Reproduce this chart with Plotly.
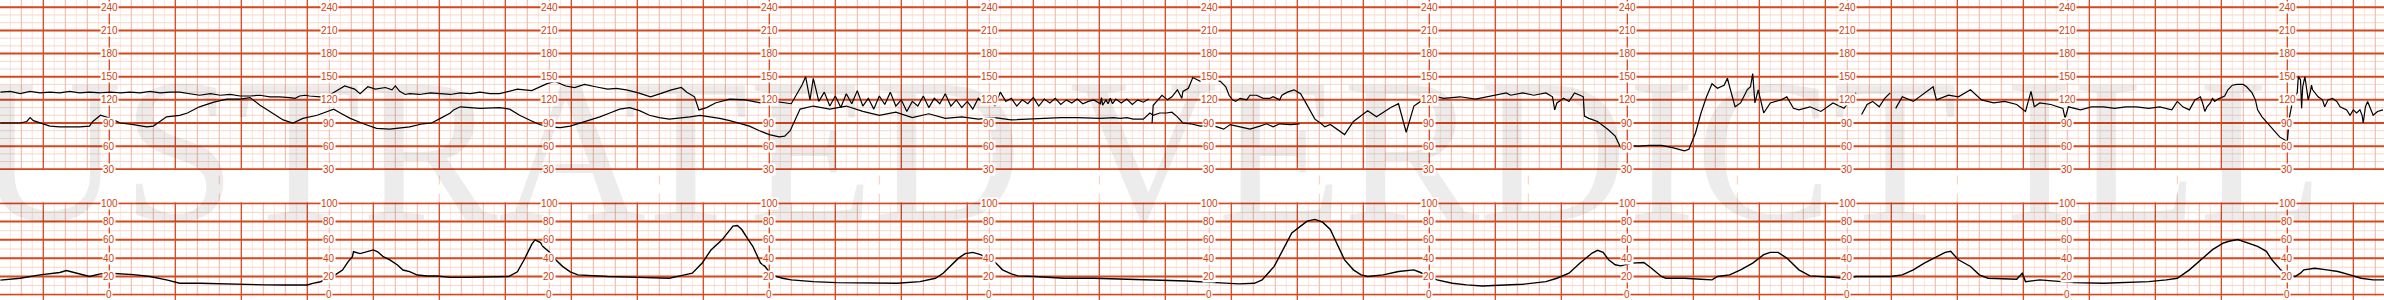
import plotly.graph_objects as go
import numpy as np

# ---------------- data (time in seconds) ----------------
fhr1_t = [-39,-30,-21,-12,-3,6,15,24,33,42,52,61,70,79,88,97,106,115,124,133,142,152,161,170,179,188,197,206,215,224,229,233,238,242,252,261,270,274,283,288,295,302,311,317,320,324,329,333,342,352,361,370,379,388,397,406,415,
          431,444,458,465,475,483,492,502,513,521,530,541,552,561,571,580,585,592,596,603,611,624,638,652,665,680,
          690,693,697,700,705,710,715,720,725,730,735,740,745,750,755,760,765,770,775,780,785,790,795,800,805,810,815,820,825,830,835,840,845,850,855,860,865,870,875,880,885,890,895,900,905,910,915,920,925,930,935,940,945,950,955,961,962,963,966,968,970,972,974,975,980,985,990,995,1000,1005,
          None,
          1008,1008.5,1009,1017,1022,1026,1031,1035,1036,1041,1045,1049,1052,1058,1061,1066,1070,1075,1078,1081,1084,1088,1094,1097,1103,1109,1115,1118,1124,1126,1131,1137,1143,
          1147,1152,1156,1161,1165,1170,1177,1183,1191,1198,1204,1212,1218,1225,1232,1239,1246,1252,1260,1267,1273,1288,1302,1315,1324,
          1330,1334,1345,1355,1366,1372,1374,1376,1382,1387,1392,1397,1400,1401,1405,1413,1423,1429,1434,1439,1450,1460,1471,1481,1492,1496,1502,1507,1512,1517,1522,1528,1531,1533,1538,1543,1549,1552,1554,1556,1559,1564,1570,1580,1585,1591,1596,1606,1616,1627,1637,1648,
          None,
          1653,1658,1663,1669,1674,1679,
          None,
          1684,1690,1700,1710,1718,1721,1732,1741,1752,1762,1773,1783,1794,1802,1807,1810,1815,1825,1836,1838,1841,1852,1862,1873,1883,1893,1903,1914,1924,1935,1940,1945,1951,1956,1961,
          1963,1965,1967,1970,1972,1974,1977,1981,1983,1986,1990,1994,2000,2003,2008,2011,2013,2017,2022,2027,2033,2040,2041,2042,2045,2049,2050,2052,2053,2054,2056,2058,2059,2061,2062,2063,2068,2072,2074,2077,2081,2085,2088,2094,2097,2100,2103,2106,2108,2109,2111,2113,2116,2118,2122,2127]
fhr1_v = [130,131,128,131,129,130,129,131,129,130,129,130,129,130,129,131,129,130,130,128,126,128,126,127,125,125,126,124,124,123,122,125,126,125,124,127,134,138,134,128,137,134,136,133,138,131,127,128,127,129,128,127,129,128,130,128,128,
          134,132,141,144,138,136,140,137,134,135,133,129,124,128,133,136,130,124,107,110,116,121,120,116,118,115,
          140,150,120,148,118,130,112,125,110,128,115,132,112,122,108,125,114,130,112,120,105,118,112,125,110,122,115,128,112,120,110,118,108,122,115,125,112,130,118,122,112,120,115,123,112,121,116,122,114,120,116,121,115,118,120,115,123,113,120,115,122,115,120,121,116,121,114,120,117,121,
          None,
          90,103,113,126,120,124,133,122,131,135,149,146,144,144,146,145,144,137,126,120,118,122,120,126,126,122,122,124,120,126,130,133,128,
          118,105,95,90,85,88,81,75,92,100,106,98,104,110,115,78,112,118,120,124,122,124,121,125,127,
          129,126,129,126,129,124,107,116,122,118,129,126,124,99,96,92,81,73,58,61,60,61,61,58,54,56,77,103,124,141,135,139,148,137,111,116,133,137,154,116,133,103,116,120,124,109,107,111,105,116,109,129,
          None,
          101,114,118,111,122,129,
          None,
          109,124,118,129,137,120,126,124,133,120,116,118,114,105,131,111,116,114,109,96,111,107,111,111,109,111,111,109,111,107,118,111,107,120,124,
          116,105,111,116,122,118,121,124,125,133,139,140,140,137,129,120,107,98,90,81,72,66,81,98,120,129,150,146,109,137,150,133,120,131,139,133,124,120,111,120,122,118,111,107,100,107,103,107,100,90,111,118,107,100,105,107]

fhr2_t = [-39,-30,-21,-15,-12,-9,-3,6,15,24,33,42,45,52,61,70,82,94,100,106,112,124,131,142,155,167,179,188,197,206,218,227,236,249,254,264,270,279,291,303,315,322,333,345,353,361,370,373,379,397,415,
          424,433,442,451,460,470,479,488,497,506,515,524,533,542,551,560,569,578,588,597,606,615,624,633,642,651,660,669,674,679,684,688,700,715,730,745,760,775,790,805,820,835,850,865,880,895,910,925,940,955,961,973,979,985,991,1000,1006,1009,1015,1021,1026,1031,1036,1043,1052,1061,1067,1073,1079,1088,1097,1106,1112,1118,1124,1134,1142]
fhr2_v = [90,90,90,92,97,93,90,86,85,85,85,86,92,100,96,90,88,85,86,92,98,100,103,111,117,121,121,123,113,105,94,90,96,100,103,108,103,96,89,83,82,83,85,89,90,96,103,107,111,109,110,
          108,100,94,88,85,84,86,90,94,98,103,108,110,106,100,97,95,96,98,100,98,96,93,90,86,80,75,72,73,80,95,108,112,108,112,105,100,104,97,102,96,98,95,97,94,95,96,97,97,96,96,97,96,97,95,95,103,100,103,103,104,98,90,89,86,87,85,82,88,85,82,86,89,85,89,88,89]

toco_t = [-39,-21,-3,15,21,33,42,52,61,82,97,112,124,142,173,188,203,218,240,245,252,259,265,272,277,281,282,288,294,300,304,309,315,322,327,333,340,349,358,370,385,415,
          423,431,437,444,447,452,454,461,466,472,479,486,513,541,569,583,590,599,607,617,627,631,635,641,645,652,656,662,672,680,700,721,749,776,797,811,818,824,832,838,845,852,859,866,872,880,886,901,928,955,983,1011,1039,1066,1087,1101,1108,1119,1129,1135,1143,1149,1156,1163,1170,1177,1183,1191,1198,1204,1218,1232,1246,1252,1260,1267,1281,1294,1308,1322,
          1345,1366,1376,1387,1397,1408,1413,1418,1423,1429,1434,1444,1455,1462,1471,1475,1492,1507,1517,1522,1533,1543,1554,1564,1570,1577,1585,1596,1606,1627,1637,1648,1679,1690,1700,1710,1721,1729,1734,1741,1752,1760,1768,1783,1794,1799,1802,1815,1836,1846,1873,1898,1914,1930,1940,1951,1961,1972,1982,1987,1995,2002,2013,2021,2026,2034,2039,2047,2052,2055,2060,2065,2076,2086,2097,2107,2118,2128]
toco_v = [16,18,21.7,24.3,26.5,22.8,19.9,22.8,23.5,22,19.9,16.2,12.5,12.5,11.4,10.6,10.7,10.6,10.6,12.4,14.2,17.9,21.5,27,36,41.6,47,45,47,49,47,41.6,38,32.5,27,25.2,21.5,20.4,20.4,19,19,20,
          19.9,25,38,55,60,57,53,45.6,38,31,25,21.7,19.9,19,18,21.7,23.5,34.6,49,60,75,75.7,71.3,60,53,34.6,31,21.7,18,16.2,14.3,13.2,12.5,12.5,14.3,18,23.5,31,40,45,46.3,43.8,40,34.6,27.2,22.8,20.6,19.9,18,18,16.9,16.2,15,13.2,11.8,12.5,16.2,31,53,67.6,75,80.5,82.4,79.4,71.3,53,38,27.2,21.7,19.9,21.7,25.4,27.2,24.3,19.9,16.2,12.5,10.7,9.6,10.3,
          11.4,14.3,18,23.5,34.6,45.6,48.5,46.3,38.2,32.7,31.6,34.6,35.3,29,19.9,18,18,16.9,16.2,19.9,21.7,27.2,34.6,43.8,46.3,46.3,40.1,27.2,20.6,19.1,18,19.9,19.9,21.7,27.2,34.6,41.9,46.3,47.4,38.2,30.9,21.7,18,16.9,16.9,23.5,14.3,16.2,14.3,13.2,12.5,13.2,14.3,16.2,18,27.2,38.2,49.3,56.6,58.5,60.3,57.4,52.9,47.4,38.2,27.2,21.7,19.9,23.5,27.2,27.9,29,27.2,25.4,21.7,18,16.2,16.2]

fhr_ticks = [30, 60, 90, 120, 150, 180, 210, 240]
toco_ticks = [0, 20, 40, 60, 80, 100]
label_times = [60, 260, 460, 660, 860, 1060, 1260, 1440, 1640, 1840, 2040]
watermark_text = "USTRATED VERDICT ILL"

# ---------------- styling ----------------
DARK = "#d8461c"
MED = "#f1b39f"
FAINT = "#fce4db"
FAINT_H = "#f9d6c9"
DASH = "#f6cbbb"
LABEL = "#d2400e"

T_RANGE = [-39.36, 2127.9]
FHR_RANGE = [29.08, 249.46]
TOCO_RANGE = [-0.875, 100.875]

dark_t = [int(t) for t in np.arange(0, 2128, 60)]
med_t = [int(t) for t in np.arange(-20, 2128, 20) if t % 60 != 0]
faint_t = [int(t) for t in np.arange(-30, 2128, 20)]
dash_t = [(a + b) / 2 for a, b in zip(label_times[:-1], label_times[1:])]
fhr_faint = [v for v in range(40, 250, 10) if v % 30 != 0]
toco_faint = [10, 30, 50, 70, 90]

H = 300.0
UP = [1 - 170 / H, 1]
LOW = [1 - 295.5 / H, 1 - 202.5 / H]
up_h = UP[1] - UP[0]
low_h = LOW[1] - LOW[0]
gap_below_up = -(UP[0] - LOW[1]) / up_h     # dashed lines reach down to the toco panel
strip_below_low = -(LOW[0]) / low_h         # dark minute lines reach the bottom edge

fig = go.Figure()
fig.add_trace(go.Scatter(x=fhr1_t, y=fhr1_v, xaxis="x", yaxis="y", mode="lines",
                         line=dict(color="black", width=1.2), connectgaps=False, hoverinfo="skip"))
fig.add_trace(go.Scatter(x=fhr2_t, y=fhr2_v, xaxis="x", yaxis="y", mode="lines",
                         line=dict(color="black", width=1.2), hoverinfo="skip"))
fig.add_trace(go.Scatter(x=toco_t, y=toco_v, xaxis="x2", yaxis="y2", mode="lines",
                         line=dict(color="black", width=1.4), hoverinfo="skip"))


def ax(**kw):
    base = dict(showticklabels=False, ticks="", zeroline=False, showline=False, fixedrange=True,
                showgrid=False)
    base.update(kw)
    return base


fig.update_layout(
    width=2384, height=300, margin=dict(l=0, r=0, t=0, b=0),
    paper_bgcolor="white", plot_bgcolor="rgba(0,0,0,0)", showlegend=False,
    xaxis=ax(domain=[0, 1], range=T_RANGE, anchor="y"),
    yaxis=ax(domain=UP, range=FHR_RANGE, anchor="x"),
    xaxis2=ax(domain=[0, 1], range=T_RANGE, anchor="y2"),
    yaxis2=ax(domain=LOW, range=TOCO_RANGE, anchor="x2"),
)


def vline(xa, t, color, width, y0=0, y1=1, dash="solid"):
    return dict(type="line", xref=xa, yref="y domain" if xa == "x" else "y2 domain",
                x0=t, x1=t, y0=y0, y1=y1, line=dict(color=color, width=width, dash=dash), layer="below")


def hline(ya, v, color, width):
    return dict(type="line", xref="x domain" if ya == "y" else "x2 domain", yref=ya,
                x0=0, x1=1, y0=v, y1=v, line=dict(color=color, width=width), layer="below")


shapes = []
for t in faint_t:                       # 10 s lines
    shapes.append(vline("x", t, FAINT, 1))
    shapes.append(vline("x2", t, FAINT, 1))
for v in fhr_faint:
    shapes.append(hline("y", v, FAINT_H, 1))
for v in toco_faint:
    shapes.append(hline("y2", v, FAINT_H, 1))
for t in med_t:                         # 20 s lines
    shapes.append(vline("x", t, MED, 1))
    shapes.append(vline("x2", t, MED, 1))
for t in dash_t:                        # dashed marks between the panels
    shapes.append(vline("x", t, DASH, 1, y0=gap_below_up, y1=0, dash="dash"))
for t in dark_t:                        # minute lines
    shapes.append(vline("x", t, DARK, 1.3))
    shapes.append(vline("x2", t, DARK, 1.3, y0=strip_below_low, y1=1))
for v in fhr_ticks:
    shapes.append(hline("y", v, DARK, 2))
for v in toco_ticks:
    shapes.append(hline("y2", v, DARK, 2))
fig.update_layout(shapes=shapes)

annotations = []
annotations.append(dict(text=watermark_text, xref="paper", yref="paper", x=-0.0116, y=0.5,
                        xanchor="left", yanchor="middle", showarrow=False,
                        font=dict(family="Liberation Serif", size=205, color="rgba(0,0,0,0.075)")))
for lt in label_times:
    for v in fhr_ticks:
        annotations.append(dict(text=str(v), x=lt, y=v, xref="x", yref="y", showarrow=False,
                                bgcolor="white", borderpad=0,
                                font=dict(family="Liberation Sans", size=10, color=LABEL)))
    for v in toco_ticks:
        annotations.append(dict(text=str(v), x=lt, y=v, xref="x2", yref="y2", showarrow=False,
                                bgcolor="white", borderpad=0,
                                font=dict(family="Liberation Sans", size=10, color=LABEL)))
fig.update_layout(annotations=annotations)

fig.write_html("out.html")
